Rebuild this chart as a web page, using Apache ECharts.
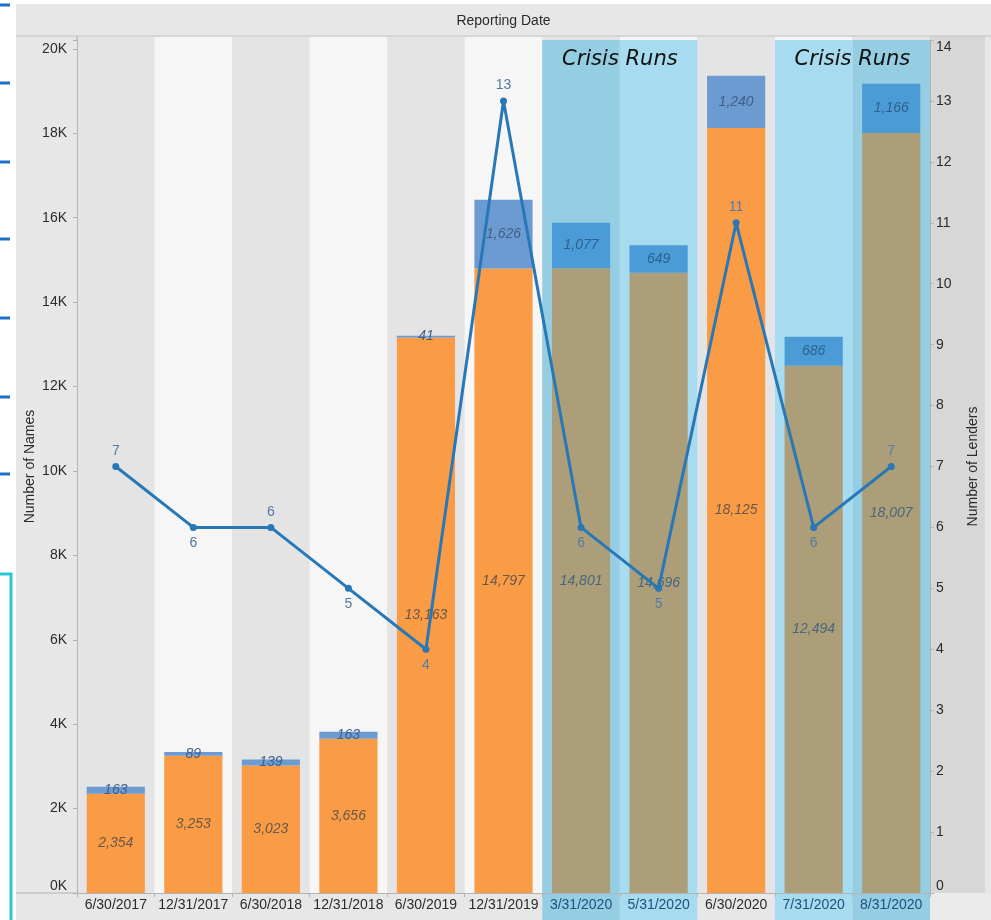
<!DOCTYPE html>
<html>
<head>
<meta charset="utf-8">
<script src="https://cdn.jsdelivr.net/npm/echarts@6/dist/echarts.min.js"></script>
<style>
html,body{margin:0;padding:0;background:#ffffff;}
#c{width:991px;height:920px;}
</style>
</head>
<body>
<div id="c"></div>
<script>
// ---------------- data ----------------
const categories = ['6/30/2017','12/31/2017','6/30/2018','12/31/2018','6/30/2019','12/31/2019','3/31/2020','5/31/2020','6/30/2020','7/31/2020','8/31/2020'];
const baseNames = [2354, 3253, 3023, 3656, 13163, 14797, 14801, 14696, 18125, 12494, 18007];
const addedNames = [163, 89, 139, 163, 41, 1626, 1077, 649, 1240, 686, 1166];
const lenders = [7, 6, 6, 5, 4, 13, 6, 5, 11, 6, 7];
const crisisFlags = [0, 0, 0, 0, 0, 0, 1, 1, 0, 1, 1];
const lenderLabelPositions = ['top','bottom','top','bottom','bottom','top','bottom','bottom','top','bottom','top'];
const crisisRuns = [[6, 7], [9, 10]];
const crisisText = 'Crisis Runs';
const headerText = 'Reporting Date';
const leftAxisName = 'Number of Names';
const rightAxisName = 'Number of Lenders';
const leftAxisMax = 20210;
const leftAxisStep = 2000;
const rightAxisMax = 14;
const rightAxisStep = 1;

// ---------------- styles ----------------
const FONT = '"Liberation Sans", Arial, sans-serif';
const COL = {
  orange: '#fa9b46',
  tan: '#ab9e78',
  slate: '#6b9bd1',
  crisisTop: '#4b9bd6',
  line: '#2878b8',
  lineLabel: '#557aa4',
  baseLabel: '#6a5848',
  baseLabelCrisis: '#4a6679',
  topLabel: '#40608a',
  topLabelCrisis: '#2c6190',
  axis: '#b3b3b3',
  text: '#2b2b2b',
  crisisAxisText: '#22507e'
};

const chart = echarts.init(document.getElementById('c'), null, {renderer: 'canvas'});
const fmt = v => Number(v).toLocaleString('en-US');

const option = {
  animation: false,
  backgroundColor: 'transparent',
  grid: {left: 77, right: 61, top: 40, bottom: 27, containLabel: false},
  xAxis: {
    type: 'category',
    data: categories,
    axisLine: {show: true, lineStyle: {color: COL.axis, width: 1}},
    axisTick: {show: true, length: 4, lineStyle: {color: COL.axis}},
    axisLabel: {
      fontSize: 14, fontFamily: FONT, margin: 5, interval: 0, color: COL.text,
      formatter: (v, i) => (crisisFlags[i] ? '{c|' + v + '}' : '{n|' + v + '}'),
      rich: {
        c: {color: COL.crisisAxisText, fontSize: 14, fontFamily: FONT},
        n: {color: COL.text, fontSize: 14, fontFamily: FONT}
      }
    },
    splitLine: {show: false}
  },
  yAxis: [
    {
      type: 'value', min: 0, max: leftAxisMax, interval: leftAxisStep,
      name: leftAxisName, nameLocation: 'middle', nameGap: 40, nameRotate: 90, nameMoveOverlap: false,
      nameTextStyle: {fontSize: 14, fontFamily: FONT, color: COL.text},
      axisLine: {show: true, lineStyle: {color: COL.axis}},
      axisTick: {show: true, length: 4, lineStyle: {color: COL.axis}},
      splitLine: {show: false},
      axisLabel: {
        fontSize: 14, fontFamily: FONT, color: COL.text, margin: 10,
        formatter: v => (v % leftAxisStep === 0 ? (v / 1000) + 'K' : ''),
        verticalAlignMinLabel: 'bottom'
      }
    },
    {
      type: 'value', position: 'right', min: 0, max: rightAxisMax, interval: rightAxisStep,
      name: rightAxisName, nameLocation: 'middle', nameGap: 36, nameRotate: 90, nameMoveOverlap: false,
      nameTextStyle: {fontSize: 14, fontFamily: FONT, color: COL.text},
      axisLine: {show: true, lineStyle: {color: COL.axis}},
      axisTick: {show: true, length: 4, lineStyle: {color: COL.axis}},
      splitLine: {show: false},
      axisLabel: {
        fontSize: 14, fontFamily: FONT, color: COL.text, margin: 6,
        verticalAlignMinLabel: 'bottom', verticalAlignMaxLabel: 'top'
      }
    }
  ],
  series: [
    {
      name: 'Base', type: 'bar', stack: 'names', barWidth: '75%', z: 3,
      data: baseNames.map((v, i) => ({
        value: v,
        itemStyle: {color: crisisFlags[i] ? COL.tan : COL.orange},
        label: {color: crisisFlags[i] ? COL.baseLabelCrisis : COL.baseLabel}
      })),
      label: {show: true, position: 'inside', fontSize: 14, fontStyle: 'italic', fontFamily: FONT, formatter: p => fmt(p.value)}
    },
    {
      name: 'Added', type: 'bar', stack: 'names', barWidth: '75%', z: 3,
      data: addedNames.map((v, i) => ({
        value: v,
        itemStyle: {color: crisisFlags[i] ? COL.crisisTop : COL.slate},
        label: {color: crisisFlags[i] ? COL.topLabelCrisis : COL.topLabel}
      })),
      label: {show: true, position: 'inside', fontSize: 14, fontStyle: 'italic', fontFamily: FONT, formatter: p => fmt(p.value)}
    },
    {
      name: 'Lenders', type: 'line', yAxisIndex: 1, z: 5,
      symbol: 'circle', symbolSize: 7,
      lineStyle: {color: COL.line, width: 3},
      itemStyle: {color: COL.line},
      data: lenders.map((v, i) => ({value: v, label: {position: lenderLabelPositions[i]}})),
      label: {show: true, fontSize: 14, fontFamily: FONT, color: COL.lineLabel, distance: 5}
    }
  ]
};

chart.setOption(option);

function buildGraphic() {
  const xs = categories.map(c => chart.convertToPixel({xAxisIndex: 0}, c));
  const step = xs[1] - xs[0];
  const yBase = chart.convertToPixel({yAxisIndex: 1}, 0);
  const yTop = chart.convertToPixel({yAxisIndex: 1}, rightAxisMax);
  const plotL = xs[0] - step / 2;
  const plotR = xs[xs.length - 1] + step / 2;
  const W = chart.getWidth(), H = chart.getHeight();
  const panelL = 16, panelT = 4, headerB = 36, axisColR = 985;
  const els = [];

  els.push({type: 'rect', z: -30, silent: true, shape: {x: panelL, y: panelT, width: W - panelL, height: H - panelT}, style: {fill: '#e7e7e7'}});
  els.push({type: 'rect', z: -29, silent: true, shape: {x: plotR, y: headerB, width: axisColR - plotR, height: yBase - headerB}, style: {fill: '#d7d7d7'}});
  els.push({type: 'rect', z: -29, silent: true, shape: {x: plotR, y: yBase, width: W - plotR, height: H - yBase}, style: {fill: '#ebebeb'}});

  categories.forEach((c, i) => {
    els.push({type: 'rect', z: -28, silent: true,
      shape: {x: xs[i] - step / 2, y: headerB + 1, width: step, height: yBase - headerB - 1},
      style: {fill: i % 2 ? '#f6f6f6' : '#e4e4e4'}});
  });

  crisisRuns.forEach(run => {
    for (let i = run[0]; i <= run[1]; i++) {
      els.push({type: 'rect', z: -27, silent: true,
        shape: {x: xs[i] - step / 2, y: yTop, width: step, height: H - yTop},
        style: {fill: i % 2 ? '#a7dbef' : '#95cde3'}});
    }
    const cx = (xs[run[0]] + xs[run[1]]) / 2;
    els.push({type: 'text', z: 100, silent: true, x: cx, y: yTop + 20,
      style: {text: crisisText, fill: '#111111', font: 'italic 21px "DejaVu Sans", sans-serif', align: 'center', verticalAlign: 'middle'}});
  });

  els.push({type: 'line', z: -20, silent: true, shape: {x1: panelL, y1: headerB, x2: W, y2: headerB}, style: {stroke: '#c4c4c4', lineWidth: 1}});
  els.push({type: 'line', z: -20, silent: true, shape: {x1: plotL, y1: headerB, x2: plotL, y2: yTop}, style: {stroke: COL.axis, lineWidth: 1}});
  els.push({type: 'line', z: -20, silent: true, shape: {x1: panelL, y1: yBase, x2: plotL, y2: yBase}, style: {stroke: COL.axis, lineWidth: 1}});

  els.push({type: 'text', z: 50, silent: true, x: (plotL + plotR) / 2, y: (panelT + headerB) / 2 + 1,
    style: {text: headerText, fill: COL.text, font: '14px ' + FONT, align: 'center', verticalAlign: 'middle'}});

  // screenshot edge marks on the far left
  [5, 83, 162, 239, 318, 397, 474].forEach(y => {
    els.push({type: 'rect', z: 10, silent: true, shape: {x: 0, y: y - 1.5, width: 10, height: 3}, style: {fill: '#1a70c6'}});
  });
  els.push({type: 'polyline', z: 10, silent: true, shape: {points: [[0, 574], [11, 574], [11, H]]}, style: {stroke: '#25c6d6', lineWidth: 3, fill: null}});

  chart.setOption({graphic: {elements: els}});
}
buildGraphic();
</script>
</body>
</html>
